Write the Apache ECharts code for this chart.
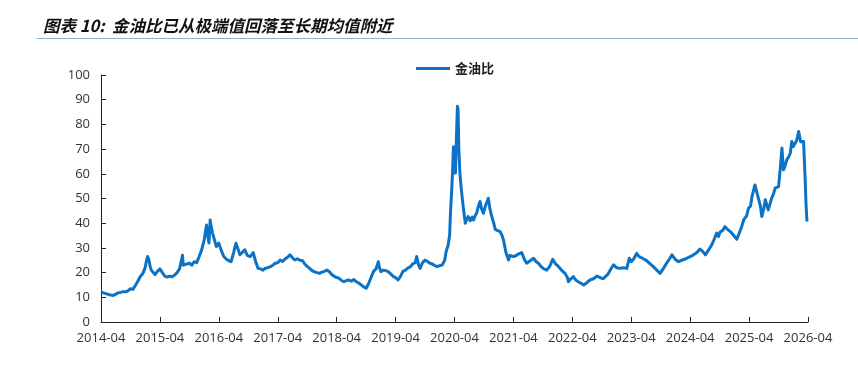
<!DOCTYPE html>
<html>
<head>
<meta charset="utf-8">
<script src="https://cdn.jsdelivr.net/npm/echarts@6/dist/echarts.min.js"></script>
<style>html,body{margin:0;padding:0;background:#fff}#c{width:858px;height:388px}</style>
</head>
<body>
<div id="c"></div>
<script>
const titleText = '图表 10:  金油比已从极端值回落至长期均值附近';
const seriesName = '金油比';
const yTicks = [0, 10, 20, 30, 40, 50, 60, 70, 80, 90, 100];
const xTickLabels = ['2014-04','2015-04','2016-04','2017-04','2018-04','2019-04','2020-04','2021-04','2022-04','2023-04','2024-04','2025-04','2026-04'];

const dates = [
'2014-04-01','2014-04-16','2014-05-01','2014-05-16','2014-06-01','2014-06-16','2014-07-01','2014-07-16','2014-08-01','2014-08-16','2014-09-01','2014-09-16','2014-10-01','2014-10-16','2014-11-01','2014-11-16','2014-12-01','2014-12-16',
'2015-01-01','2015-01-08','2015-01-16','2015-01-23','2015-02-01','2015-02-08','2015-02-16','2015-03-01','2015-03-16','2015-04-01','2015-04-16','2015-05-01','2015-05-16','2015-06-01','2015-06-16','2015-07-01','2015-07-16','2015-08-01','2015-08-19','2015-08-24','2015-09-01','2015-09-16','2015-10-01','2015-10-16','2015-11-01','2015-11-16','2015-12-01','2015-12-16',
'2016-01-01','2016-01-08','2016-01-16','2016-01-23','2016-02-01','2016-02-08','2016-02-16','2016-02-23','2016-03-01','2016-03-16','2016-04-01','2016-04-16','2016-05-01','2016-05-16','2016-06-01','2016-06-16','2016-07-01','2016-07-16','2016-08-01','2016-08-10','2016-08-22','2016-09-10','2016-09-25','2016-10-13','2016-11-01','2016-11-16','2016-12-01','2016-12-16',
'2017-01-01','2017-01-16','2017-02-01','2017-02-16','2017-03-01','2017-03-16','2017-04-01','2017-04-16','2017-05-01','2017-05-16','2017-06-01','2017-06-16','2017-07-01','2017-07-16','2017-08-01','2017-08-16','2017-09-01','2017-09-16','2017-10-01','2017-10-16','2017-11-01','2017-11-16','2017-12-01','2017-12-16',
'2018-01-01','2018-01-16','2018-02-01','2018-02-16','2018-03-01','2018-03-16','2018-04-01','2018-04-16','2018-05-01','2018-05-16','2018-06-01','2018-06-16','2018-07-01','2018-07-16','2018-08-01','2018-08-16','2018-09-01','2018-09-16','2018-10-01','2018-10-16','2018-11-01','2018-11-16','2018-12-01','2018-12-16','2018-12-23',
'2019-01-01','2019-01-16','2019-02-01','2019-02-16','2019-03-01','2019-03-16','2019-04-01','2019-04-16','2019-05-01','2019-05-16','2019-06-01','2019-06-16','2019-07-01','2019-07-16','2019-08-01','2019-08-10','2019-08-22','2019-09-01','2019-09-16','2019-10-01','2019-10-16','2019-11-01','2019-11-16','2019-12-01','2019-12-16',
'2020-01-01','2020-01-16','2020-02-01','2020-02-10','2020-02-22','2020-03-01','2020-03-07','2020-03-13','2020-03-19','2020-03-25','2020-04-01','2020-04-07','2020-04-13','2020-04-19','2020-04-23','2020-04-28','2020-05-04','2020-05-13','2020-05-22','2020-06-01','2020-06-07','2020-06-16','2020-06-25','2020-07-07','2020-07-19','2020-07-28','2020-08-07','2020-08-16','2020-08-28','2020-09-07','2020-09-16','2020-09-28','2020-10-10','2020-10-19','2020-10-28','2020-11-07','2020-11-19','2020-12-01','2020-12-10','2020-12-25',
'2021-01-10','2021-01-22','2021-02-01','2021-02-16','2021-03-01','2021-03-10','2021-03-22','2021-04-01','2021-04-16','2021-05-01','2021-05-22','2021-06-07','2021-06-22','2021-07-07','2021-07-19','2021-08-04','2021-08-19','2021-09-04','2021-09-19','2021-10-07','2021-10-25','2021-11-13','2021-12-01','2021-12-19',
'2022-01-07','2022-01-25','2022-02-16','2022-03-01','2022-03-07','2022-03-22','2022-04-07','2022-04-22','2022-05-07','2022-05-22','2022-06-10','2022-07-01','2022-07-19','2022-08-10','2022-09-01','2022-09-22','2022-10-10','2022-10-22','2022-11-10','2022-12-01','2022-12-13',
'2023-01-01','2023-01-22','2023-02-13','2023-03-04','2023-03-19','2023-04-01','2023-04-16','2023-05-04','2023-05-19','2023-06-04','2023-06-16','2023-07-01','2023-07-22','2023-08-16','2023-09-07','2023-09-28','2023-10-16','2023-11-07','2023-11-25','2023-12-10','2023-12-28',
'2024-01-19','2024-02-10','2024-03-10','2024-04-01','2024-04-22','2024-05-10','2024-06-01','2024-06-19','2024-07-04','2024-07-22','2024-08-13','2024-08-28','2024-09-13','2024-09-25','2024-10-04','2024-10-19','2024-11-04','2024-11-19','2024-12-07','2024-12-28',
'2025-01-16','2025-02-01','2025-02-16','2025-02-28','2025-03-16','2025-03-28','2025-04-10','2025-04-19','2025-05-07','2025-05-28','2025-06-10','2025-06-19','2025-07-01','2025-07-10','2025-07-19','2025-07-28','2025-08-10','2025-08-19','2025-09-01','2025-09-10','2025-10-01','2025-10-10','2025-10-22','2025-11-01','2025-11-10','2025-11-22','2025-12-04','2025-12-13','2025-12-22',
'2026-01-01','2026-01-13','2026-01-22','2026-02-04','2026-02-16','2026-02-25','2026-03-04','2026-03-13','2026-03-19','2026-03-25'
];

const goldOilRatio = [
12.2,11.8,11.5,11.2,10.9,10.7,11.3,11.8,12.0,12.3,12.2,12.6,13.5,13.2,14.8,16.5,18.4,19.5,
22.0,24.5,26.5,25.5,22.5,21.0,20.3,19.2,20.5,21.5,20.0,18.6,18.2,18.5,18.3,19.0,20.0,21.5,27.0,23.0,22.4,23.5,23.8,23.0,24.4,24.0,26.5,29.2,
33.0,36.0,39.3,35.0,32.0,41.3,38.0,36.0,34.0,30.5,31.9,29.0,26.5,25.5,24.8,24.4,28.0,31.9,29.0,27.2,28.0,29.2,27.0,26.5,28.1,24.5,21.7,21.5,
21.0,21.8,22.0,22.4,23.0,23.8,24.0,25.1,24.5,25.5,26.2,27.2,26.0,25.1,25.6,25.0,24.9,23.5,22.5,21.7,20.8,20.3,20.0,19.7,
20.2,20.5,21.0,20.4,19.2,18.5,18.0,17.7,16.8,16.3,16.8,17.0,16.5,17.2,16.3,15.8,15.0,14.2,13.7,15.5,18.0,20.4,21.5,24.4,22.0,
20.4,21.0,20.8,20.4,19.5,18.5,18.0,17.0,18.5,20.5,21.0,21.8,22.4,23.5,24.0,26.5,23.0,21.7,24.0,25.1,24.5,23.8,23.5,22.8,22.4,
22.8,23.1,25.0,28.5,31.0,35.0,45.0,52.0,60.3,71.0,62.0,60.3,75.0,87.3,86.0,70.0,60.3,53.5,48.1,43.0,40.0,41.5,42.7,41.0,42.5,41.3,43.0,44.0,47.0,48.8,46.0,44.0,47.0,48.5,50.1,46.0,42.7,40.0,37.5,37.0,
36.6,35.0,33.0,28.0,25.1,27.0,27.8,26.5,26.8,27.5,28.1,25.5,23.8,24.5,25.0,25.8,24.5,23.8,22.5,21.5,21.0,22.5,25.4,23.5,
22.4,21.0,19.7,18.0,16.3,17.5,18.4,17.0,16.3,15.8,15.0,16.0,17.0,17.5,18.6,18.0,17.5,17.0,19.5,22.0,23.1,
22.0,21.7,22.0,21.7,25.8,24.4,25.5,27.8,26.5,26.0,25.8,25.0,23.8,22.4,21.0,19.7,21.5,23.8,25.5,27.2,25.5,
24.4,25.0,25.8,26.5,27.2,28.0,29.5,28.5,27.2,29.0,31.2,33.5,36.0,34.6,36.5,37.0,38.6,37.5,36.6,35.0,
33.5,36.0,38.6,41.3,43.0,46.1,47.0,50.8,55.5,50.1,47.0,42.7,46.0,49.5,47.5,45.4,48.0,50.1,52.0,54.2,54.8,60.9,70.4,61.6,63.0,65.7,67.0,68.4,73.1,
71.0,71.1,73.5,77.1,73.0,72.4,73.1,58.9,48.0,40.7
];

// months elapsed since 2014-04-01
function monthsSinceStart(s) {
  const [y, m, d] = s.split('-').map(Number);
  return (y - 2014) * 12 + (m - 4) + (d - 1) / 30.4;
}
const seriesData = dates.map((d, i) => [monthsSinceStart(d), goldOilRatio[i]]);

const lineColor = '#0b72c6';
const chart = echarts.init(document.getElementById('c'), null, {renderer: 'canvas'});
const axisFont = 'Open Sans, Liberation Sans, sans-serif';
chart.setOption({
  animation: false,
  backgroundColor: '#fff',
  title: {
    text: titleText,
    left: 38,
    top: 12,
    textStyle: {
      fontFamily: 'Noto Sans CJK SC',
      fontSize: 16.5,
      fontStyle: 'italic',
      fontWeight: 'bold',
      color: '#111'
    }
  },
  graphic: [{
    type: 'line',
    shape: {x1: 37, y1: 38.5, x2: 858, y2: 38.5},
    style: {stroke: '#8fb1c9', lineWidth: 1.2}
  }],
  legend: {
    data: [{name: seriesName, icon: 'rect'}],
    left: 411,
    top: 57,
    itemWidth: 34,
    itemHeight: 3,
    itemGap: 6,
    textStyle: {fontFamily: 'Noto Sans CJK SC', fontSize: 13, fontWeight: 'bold', color: '#222'}
  },
  grid: {left: 101, right: 50, top: 75, bottom: 66, containLabel: false},
  xAxis: {
    type: 'value',
    min: 0,
    max: 144,
    interval: 12,
    splitLine: {show: false},
    axisLine: {show: true, lineStyle: {color: '#222', width: 1}},
    axisTick: {show: true, inside: true, length: 5, lineStyle: {color: '#222'}},
    axisLabel: {
      margin: 10,
      fontFamily: axisFont,
      fontSize: 13,
      color: '#333',
      formatter: v => xTickLabels[Math.round(v / 12)] || ''
    }
  },
  yAxis: {
    type: 'value',
    min: yTicks[0],
    max: yTicks[yTicks.length - 1],
    interval: 10,
    splitLine: {show: false},
    axisLine: {show: true, lineStyle: {color: '#222', width: 1}},
    axisTick: {show: true, inside: true, length: 5, lineStyle: {color: '#222'}},
    axisLabel: {margin: 11, fontFamily: axisFont, fontSize: 13, color: '#333'}
  },
  series: [{
    name: seriesName,
    type: 'line',
    data: seriesData,
    symbol: 'none',
    showSymbol: false,
    lineStyle: {color: lineColor, width: 3, join: 'round'},
    itemStyle: {color: lineColor}
  }]
});
</script>
</body>
</html>
